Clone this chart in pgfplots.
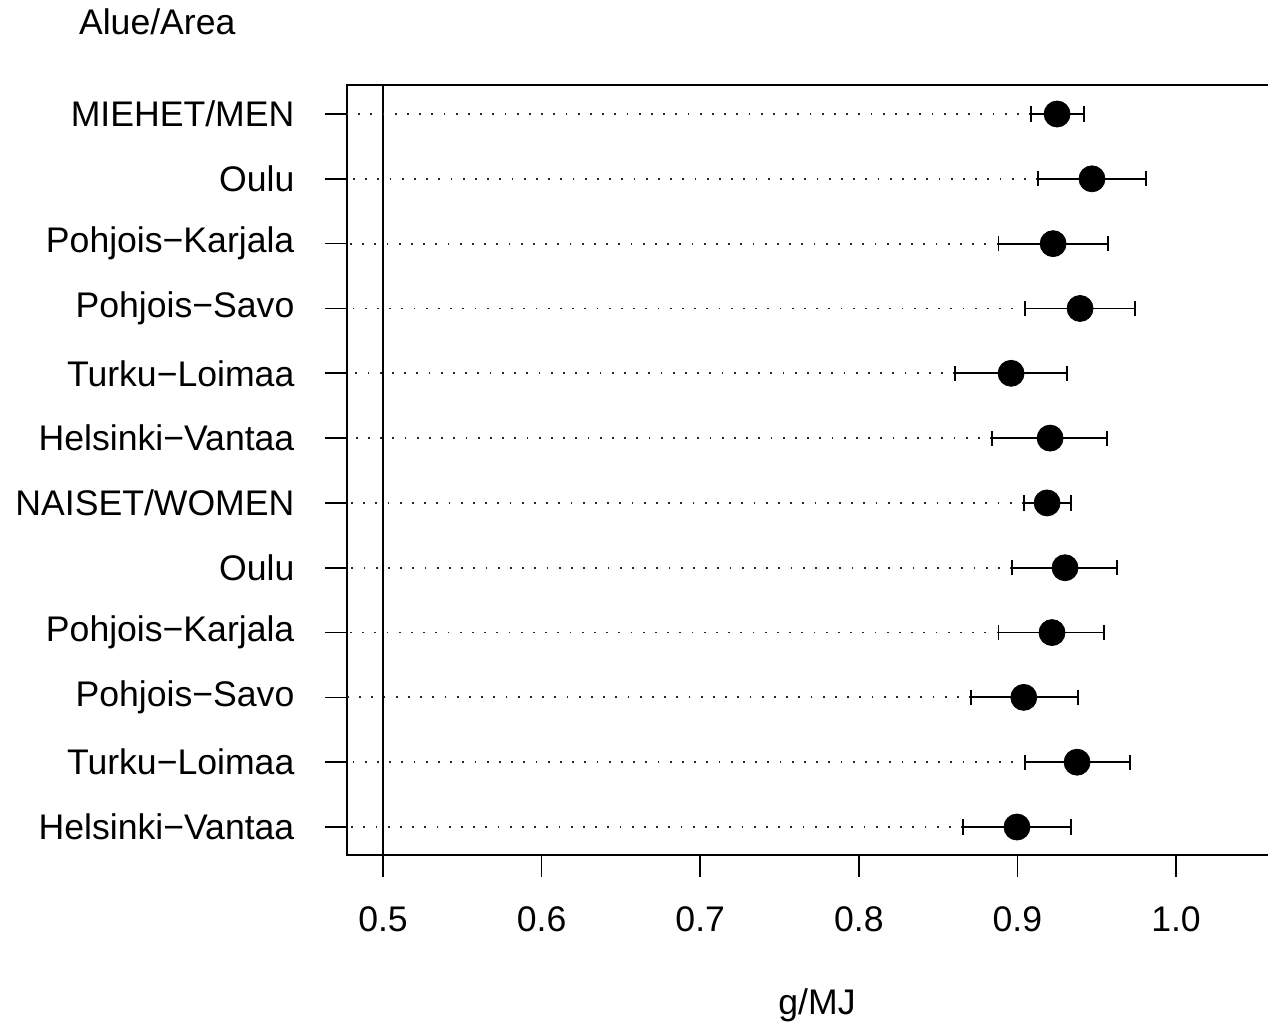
\documentclass[border=0pt]{standalone}
\usepackage{fontspec}
\setmainfont{Liberation Sans}
\usepackage{pgfplots}
\usepackage{pgfplotstable}
\pgfplotsset{compat=1.18}
\pgfplotstableread{
y x lo hi
1 0.925 0.9086 0.942
2 0.947 0.913 0.981
3 0.9225 0.888 0.957
4 0.9395 0.905 0.974
5 0.896 0.8607 0.931
6 0.9206 0.884 0.9565
7 0.9187 0.904 0.934
8 0.930 0.8966 0.9628
9 0.9218 0.888 0.9546
10 0.904 0.8707 0.938
11 0.9376 0.905 0.971
12 0.8997 0.8657 0.934
}\datatab
\newcommand\fs{\fontsize{17.8pt}{21pt}\selectfont}
\begin{document}
\begin{tikzpicture}
\begin{axis}[
  at={(173.5pt,85pt)}, anchor=south west,
  scale only axis, width=462.5pt, height=385pt,
  xmin=0.4773, xmax=1.0605,
  ymin=0.5525, ymax=12.432, y dir=reverse,
  axis line style={line width=0.9pt},
  tick align=outside, major tick length=10.8pt,
  tick style={line width=0.8pt, black},
  xtick={0.5,0.6,0.7,0.8,0.9,1.0},
  xticklabels={0.5,0.6,0.7,0.8,0.9,1.0},
  ytick={1,...,12},
  yticklabels={MIEHET/MEN,Oulu,Pohjois−Karjala,Pohjois−Savo,Turku−Loimaa,Helsinki−Vantaa,NAISET/WOMEN,Oulu,Pohjois−Karjala,Pohjois−Savo,Turku−Loimaa,Helsinki−Vantaa},
  every tick label/.append style={font=\fs},
  yticklabel style={xshift=-12pt},
  xticklabel style={yshift=-11.5pt},
  xtick pos=bottom, ytick pos=left,
  clip=false,
]
\addplot[black, line width=0.9pt] coordinates {(0.5,0.5525) (0.5,12.432)};
\addplot[draw=none, mark=none,
  error bars/.cd, x dir=minus, x explicit, error mark=none,
  error bar style={line width=0.9pt, black!85, dash pattern=on 0.9pt off 5.2pt}]
  table[x=lo, y=y, x error minus expr=\thisrow{lo}-0.4773] {\datatab};
\addplot[only marks, mark=*, mark size=6.5pt, mark options={fill=black, draw=black},
  error bars/.cd, x dir=both, x explicit,
  error bar style={line width=0.9pt, black},
  error mark options={rotate=90, mark size=3.8pt, line width=0.9pt, black}]
  table[x=x, y=y, x error minus expr=\thisrow{x}-\thisrow{lo}, x error plus expr=\thisrow{hi}-\thisrow{x}] {\datatab};
\end{axis}
\node[anchor=base west, font=\fs] at (36pt,495pt) {Alue/Area};
\node[anchor=base, font=\fs] at (408.5pt,5.5pt) {g/MJ};
\pgfresetboundingbox
\useasboundingbox (0,0) rectangle (634pt,512.5pt);
\end{tikzpicture}
\end{document}
